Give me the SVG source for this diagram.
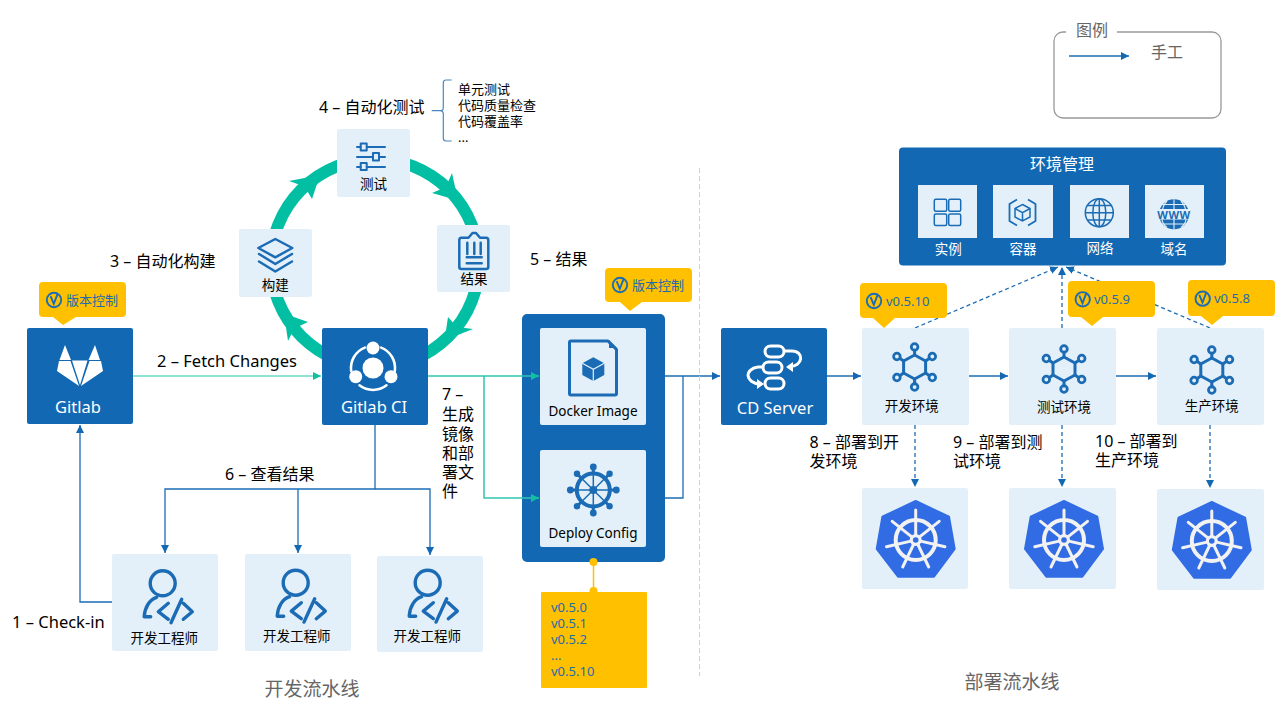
<svg xmlns="http://www.w3.org/2000/svg" width="1280" height="720" viewBox="0 0 1280 720">
<style>
text{font-family:"Noto Sans","Noto Sans CJK SC",sans-serif;fill:#000}
.c{text-anchor:middle}
.w{fill:#fff}
.s13{font-size:13.5px}.s15{font-size:16px}.s16{font-size:16px}.s165{font-size:16.5px}
.g{fill:#666}
.y{fill:#FFC000}
.lb{fill:#E3F0F9}
.db{fill:#1368B3}
.v{fill:#1E6BAE;font-size:13px}
.ic{fill:none;stroke:#1B6CB5;stroke-width:2.5;stroke-linecap:round;stroke-linejoin:round}
.ln{fill:none;stroke:#1B6CB5;stroke-width:1.3}
.lt{fill:none;stroke:#2EC7AE;stroke-width:1.5}
.da{fill:none;stroke:#1B6CB5;stroke-width:1.3;stroke-dasharray:4 3}
.wi{fill:none;stroke:#fff;stroke-width:2.6;stroke-linecap:round;stroke-linejoin:round}
</style>
<defs>
<marker id="ab" markerUnits="userSpaceOnUse" markerWidth="10" markerHeight="10" refX="8" refY="4" orient="auto"><path d="M0 0L8 4L0 8z" fill="#1368B3"/></marker>
<marker id="at" markerUnits="userSpaceOnUse" markerWidth="10" markerHeight="10" refX="8" refY="4" orient="auto"><path d="M0 0L8 4L0 8z" fill="#12BFA3"/></marker>
<g id="vi"><circle r="7.200" fill="none" stroke="#1B6CB5" stroke-width="1.900"/><path d="M-3.400 -3.800L-.2 3.800L3.600 -6.200" fill="none" stroke="#1B6CB5" stroke-width="1.900"/></g>
<g id="hex"><path class="ic" style="stroke-width:3" d="M0 -12L11 -6V6L0 12L-11 6V-6Z"/><path class="ic" style="stroke-width:3" d="M0 -12V-17M11 -6L14.500 -8.500M11 6L14.500 8.500M0 12V17M-11 6L-14.500 8.500M-11 -6L-14.500 -8.500"/><g class="ic" style="stroke-width:2.800"><circle cy="-20" r="3.300"/><circle cy="20" r="3.300"/><circle cx="17.700" cy="-10.500" r="3.300"/><circle cx="17.700" cy="10.500" r="3.300"/><circle cx="-17.700" cy="-10.500" r="3.300"/><circle cx="-17.700" cy="10.500" r="3.300"/></g></g>
<g id="k8s"><path d="M0 -39L33.300 -23.300L39 9L18.300 36.700H-17.700L-39 9L-33.300 -23.300Z" fill="#326CE5" stroke="#326CE5" stroke-width="2" stroke-linejoin="round"/><circle r="20" fill="none" stroke="#F2F2F2" stroke-width="4"/><g stroke="#F2F2F2" stroke-width="3" stroke-linecap="round"><path d="M0 -30V-5M23.500 -18.700L3.900 -3.100M29.200 6.700L4.900 1.100M13 27L2.200 4.500M-13 27L-2.200 4.500M-29.200 6.700L-4.900 1.100M-23.500 -18.700L-3.900 -3.100"/></g><circle r="6" fill="#F2F2F2"/><circle r="2.800" fill="#326CE5"/></g>
<g id="dev"><g class="ic" style="stroke-width:3.400"><circle r="12.500"/><path d="M-6 14C-13 16 -18 24 -18.500 33.500H-12"/><path d="M5.600 20L-4.400 28.400L5.600 36M19 16L8.300 39.400M20.600 20L29.600 28.400L20.600 36"/></g></g>
</defs>
<rect width="1280" height="720" fill="#fff"/>
<g id="package">
<path class="y" d="M609 268H688Q692 268 692 272V298Q692 302 688 302H642L630 311L620 302H609Q605 302 605 298V272Q605 268 609 268Z"/>
<use href="#vi" x="620" y="285"/><text x="632" y="290" class="v">版本控制</text>
<rect x="522" y="314" width="143" height="248" rx="5" class="db"/>
</g>
<g id="connectors">
<circle cx="375" cy="263" r="104" fill="none" stroke="#02BFA3" stroke-width="12"/>
<path fill="#02BFA3" d="M320 175L312 199L304.600 186.500L289 181Z"/>
<path fill="#02BFA3" d="M458 200.400L432 193L445.900 186.900L452 173Z"/>
<path fill="#02BFA3" d="M444.600 340.300L448 317L457 327L473 329Z"/>
<path fill="#02BFA3" d="M284 313.400L308 322L294.200 328.400L288 341Z"/>
<path class="lt" style="stroke:#6FD9C8" d="M133 376H321" marker-end="url(#at)"/>
<path class="lt" d="M428 376H539" marker-end="url(#at)"/>
<path class="lt" d="M484 376V498H539" marker-end="url(#at)"/>
<path class="ln" d="M112 602H80V425" marker-end="url(#ab)"/>
<path class="ln" d="M375 425V489H165V553" marker-end="url(#ab)"/>
<path class="ln" d="M298 489V553" marker-end="url(#ab)"/>
<path class="ln" d="M375 489H430V555" marker-end="url(#ab)"/>
<path class="ln" d="M665 376H720" marker-end="url(#ab)"/>
<path class="ln" d="M665 498H683V376"/>
<path class="ln" d="M827 376H861" marker-end="url(#ab)"/>
<path class="ln" d="M969 376H1008" marker-end="url(#ab)"/>
<path class="ln" d="M1116 376H1156" marker-end="url(#ab)"/>
<path class="da" d="M915 425V487" marker-end="url(#ab)"/>
<path class="da" d="M1062 425V487" marker-end="url(#ab)"/>
<path class="da" d="M1210 425V488" marker-end="url(#ab)"/>
<path class="da" d="M915 328L1058 267" marker-end="url(#ab)"/>
<path class="da" d="M1062 328V267" marker-end="url(#ab)"/>
<path class="da" d="M1210 328L1066 267" marker-end="url(#ab)"/>
<path fill="none" stroke="#FFC000" stroke-width="1.500" d="M593.500 562V592"/>
<circle cx="593.500" cy="562" r="4" class="y"/><circle cx="593.500" cy="591" r="4" class="y"/>
<path d="M699.500 168V676" fill="none" stroke="#D0D0D0" stroke-width="1" stroke-dasharray="5 3"/>
<path d="M451.700 80H446Q443.300 80 443.300 83V107.700Q443.300 110.700 440 110.700H431.700M440 110.700Q443.300 110.700 443.300 114V138Q443.300 141 446 141H451.700" fill="none" stroke="#4A86BD" stroke-width="1.200"/>
</g>

<g id="gitlab">
<path class="y" d="M43 282H122Q126 282 126 286V313Q126 317 122 317H76L63 325L53 317H43Q39 317 39 313V286Q39 282 43 282Z"/>
<use href="#vi" x="54" y="300"/><text x="66" y="305" class="v">版本控制</text>
<rect x="27" y="328" width="106" height="96" rx="2" class="db"/>
<path fill="#fff" d="M65 345L59.500 360H71ZM95 345L88.500 360H100ZM72 360.500H87.500L80 385ZM57 371L59 361H70.500L79 386ZM103 371L101 361H89.500L81 386Z"/>
<text x="78" y="413" class="c w s165">Gitlab</text>
</g>
<g id="gitlab-ci">
<rect x="322" y="328" width="106" height="97" rx="2" class="db"/>
<circle cx="373" cy="368" r="10.500" fill="#fff"/><circle cx="373" cy="348" r="6.500" fill="#fff"/><circle cx="355.700" cy="376.700" r="6.500" fill="#fff"/><circle cx="391" cy="376.700" r="6.500" fill="#fff"/>
<path class="wi" d="M381.200 347.600A22 22 0 0 1 394.800 371.100M386.500 385.300A22 22 0 0 1 359.500 385.300M351.200 371.100A22 22 0 0 1 364.800 347.600"/>
<text x="374" y="413" class="c w s165">Gitlab CI</text>
</g>
<g id="test">
<rect x="337" y="129" width="73" height="68" rx="2" class="lb"/>
<path class="ic" style="stroke-width:2" d="M357 147H360.700M367 147H385M357 157H373M379 157H385M357 167H360.700M367 167H385"/>
<path class="ic" style="stroke-width:2" d="M360.700 143.500h6v7h-6zM373 153h6v7.500h-6zM360.700 163h6v7h-6z"/>
<text x="373.500" y="189" class="c s13">测试</text>
</g>
<g id="build">
<rect x="239" y="229" width="73" height="68" rx="2" class="lb"/>
<path class="ic" d="M275.300 239L292.300 248L275.300 257.300L258.300 248ZM259 254L275.300 264L292 254M259 261.500L275.300 271.500L292 261.500"/>
<text x="275.300" y="290" class="c s13">构建</text>
</g>
<g id="result">
<rect x="437" y="225" width="73" height="67" rx="2" class="lb"/>
<path class="ic" d="M468.500 237.700H461.500Q459.300 237.700 459.300 240V267Q459.300 269 461.500 269H486Q488.300 269 488.300 267V240Q488.300 237.700 486 237.700H480L476 233H472.500ZM467.300 242.700V254M474.300 242.700V254M480.700 242.700V254M466.700 257.300H481.700M466.700 263.300H481.700"/>
<text x="474" y="284" class="c s13">结果</text>
</g>
<g id="docker-image">
<rect x="540" y="328" width="106" height="97" rx="2" class="lb"/>
<path class="ic" style="stroke-width:3" d="M571 341H608L616.500 349.500V393.500Q616.500 395 615 395H571Q569.500 395 569.500 393.500V342.500Q569.500 341 571 341Z"/>
<path d="M609 340L617 348H609Z" fill="#1B6CB5"/>
<path fill="#1B6CB5" d="M593.300 357.300L604.300 363.300V375L593.300 381L582.300 375V363.300Z"/>
<path d="M582.300 363.300L593.300 369.300L604.300 363.300M593.300 369.300V381" fill="none" stroke="#E3F0F9" stroke-width="1.200"/>
<text x="593" y="415.500" class="c s13">Docker Image</text>
</g>
<g id="deploy-config">
<rect x="540" y="450" width="106" height="97" rx="2" class="lb"/>
<circle cx="593.300" cy="490" r="16.500" fill="none" stroke="#1B6CB5" stroke-width="4"/>
<path stroke="#1B6CB5" stroke-width="1.500" d="M593.300 474V506M577.300 490H609.300M582 478.700L604.600 501.300M604.600 478.700L582 501.300"/>
<path stroke="#1B6CB5" stroke-width="3" d="M593.300 467V474M593.300 506V513M570.300 490H577.300M609.300 490H616.300M577 473.700L581.500 478.200M605.100 501.800L609.600 506.300M609.600 473.700L605.100 478.200M581.500 501.800L577 506.300"/>
<g fill="#1B6CB5"><circle cx="593.300" cy="490" r="4"/><circle cx="593.300" cy="467" r="3.400"/><circle cx="593.300" cy="513" r="3.400"/><circle cx="570.300" cy="490" r="3.400"/><circle cx="616.300" cy="490" r="3.400"/><circle cx="577" cy="473.700" r="3.200"/><circle cx="609.600" cy="473.700" r="3.200"/><circle cx="577" cy="506.300" r="3.200"/><circle cx="609.600" cy="506.300" r="3.200"/></g>
<text x="593" y="538" class="c s13">Deploy Config</text>
</g>
<g id="versions">
<rect x="541" y="592" width="106" height="96" rx="1" class="y"/>
<text class="v"><tspan x="551" y="612">v0.5.0</tspan><tspan x="551" y="628">v0.5.1</tspan><tspan x="551" y="644">v0.5.2</tspan><tspan x="551" y="660">...</tspan><tspan x="551" y="676">v0.5.10</tspan></text>
</g>
<g id="dev-1"><rect x="112" y="554" width="106" height="97" rx="2" class="lb"/><use href="#dev" x="162.700" y="583.300"/><text x="164.300" y="642.700" class="c s13">开发工程师</text></g>
<g id="dev-2"><rect x="245" y="554" width="106" height="97" rx="2" class="lb"/><use href="#dev" x="295.700" y="582.700"/><text x="296.700" y="641" class="c s13">开发工程师</text></g>
<g id="dev-3"><rect x="377" y="556" width="106" height="96" rx="2" class="lb"/><use href="#dev" x="427.700" y="582.700"/><text x="427.300" y="641" class="c s13">开发工程师</text></g>
<g id="cd-server">
<rect x="721" y="328" width="106" height="97" rx="2" class="db"/>
<g class="wi" style="stroke-width:3"><rect x="765" y="346" width="19" height="11" rx="5.500"/><rect x="763" y="362" width="19" height="11" rx="5.500"/><rect x="765" y="378" width="19" height="11" rx="5.500"/>
<path d="M785 351H792C804 351 804 366 789 367"/><path d="M762 367H758C744 369 745 383 760 384"/></g>
<path fill="#fff" d="M786 367L793 362V372ZM764 384L757 379V389Z"/>
<text x="775" y="414" class="c w s165">CD Server</text>
</g>
<g id="env-dev">
<rect x="862" y="328" width="107" height="97" rx="2" class="lb"/>
<use href="#hex" x="914.600" y="367"/><text x="911.800" y="410.700" class="c s13">开发环境</text>
<path class="y" d="M864 283H943Q947 283 947 287V314Q947 318 943 318H895L884 328L873 318H864Q860 318 860 314V287Q860 283 864 283Z"/>
<use href="#vi" x="874" y="301"/><text x="886" y="305.700" class="v">v0.5.10</text>
</g>
<g id="env-test">
<rect x="1009" y="328" width="107" height="97" rx="2" class="lb"/>
<use href="#hex" x="1064" y="369"/><text x="1064" y="412" class="c s13">测试环境</text>
<path class="y" d="M1072 281H1151Q1155 281 1155 285V313Q1155 317 1151 317H1103L1092 326L1081 317H1072Q1068 317 1068 313V285Q1068 281 1072 281Z"/>
<use href="#vi" x="1082.700" y="299.300"/><text x="1094" y="304" class="v">v0.5.9</text>
</g>
<g id="env-prod">
<rect x="1157" y="328" width="107" height="97" rx="2" class="lb"/>
<use href="#hex" x="1211.800" y="370"/><text x="1211.800" y="410.500" class="c s13">生产环境</text>
<path class="y" d="M1192 280H1271Q1275 280 1275 284V312Q1275 316 1271 316H1223L1212 325L1201 316H1192Q1188 316 1188 312V284Q1188 280 1192 280Z"/>
<use href="#vi" x="1202.700" y="298.700"/><text x="1214" y="303" class="v">v0.5.8</text>
</g>
<g id="k8s-dev"><rect x="862" y="488" width="106" height="101" rx="2" class="lb"/><use href="#k8s" x="915.700" y="540"/></g>
<g id="k8s-test"><rect x="1009" y="488" width="107" height="101" rx="2" class="lb"/><use href="#k8s" x="1064" y="540"/></g>
<g id="k8s-prod"><rect x="1157" y="489" width="107" height="101" rx="2" class="lb"/><use href="#k8s" x="1211.800" y="541"/></g>
<g id="env-management">
<rect x="899" y="147.500" width="327" height="118" rx="4" class="db"/>
<text x="1062" y="170" class="c w s16">环境管理</text>
<rect x="918" y="185" width="59" height="53" class="lb"/><rect x="993" y="185" width="60" height="53" class="lb"/><rect x="1070" y="185" width="59" height="53" class="lb"/><rect x="1145" y="185" width="59" height="53" class="lb"/>
<g fill="none" stroke="#1B6CB5" stroke-width="1.500"><rect x="934.300" y="199.300" width="12.400" height="12" rx="1.500"/><rect x="948.700" y="199.300" width="12" height="12" rx="1.500"/><rect x="934.300" y="214" width="12.400" height="11.500" rx="1.500"/><rect x="948.700" y="214" width="12" height="11.500" rx="1.500"/>
<path stroke-width="1.800" d="M1017 199.500L1009.500 204V221L1017 225.500M1028 199.500L1035.500 204V221L1028 225.500"/><path d="M1022.500 204.500L1030 208.500V217L1022.500 221L1015 217V208.500ZM1015 208.500L1022.500 212.700L1030 208.500M1022.500 212.700V221" stroke-width="1.500"/>
<circle cx="1099.300" cy="212.700" r="14"/><ellipse cx="1099.300" cy="212.700" rx="6.500" ry="14"/><path d="M1099.300 198.700V226.700M1085.300 212.700H1113.300M1087.300 205.500H1111.300M1087.300 220H1111.300"/></g>
<circle cx="1174" cy="214.300" r="15" fill="#1B6CB5"/>
<path d="M1174 199.300V229.300M1167 201C1163 205 1162 209 1162 214M1181 201C1185 205 1186 209 1186 214M1162 204.500H1186M1162 224H1186M1167 227.500C1164 225 1162 222 1162 219M1181 227.500C1184 225 1186 222 1186 219" fill="none" stroke="#E3F0F9" stroke-width="1.100"/>
<rect x="1158" y="209" width="32" height="10.500" fill="#E3F0F9"/>
<text x="1174" y="218.500" class="c" style="fill:#1B6CB5;font-size:11px;font-weight:700;letter-spacing:.5px">WWW</text>
<text x="948.300" y="254.300" class="c w s13">实例</text><text x="1023" y="254.300" class="c w s13">容器</text><text x="1100" y="252.500" class="c w s13">网络</text><text x="1174" y="254.300" class="c w s13">域名</text>
</g>
<g id="legend">
<rect x="1054" y="32" width="167" height="86" rx="9" fill="none" stroke="#999" stroke-width="1.300"/>
<rect x="1066" y="28" width="51" height="8" fill="#fff"/>
<text x="1076" y="36" class="g s16">图例</text>
<path class="ln" d="M1069 56H1129" marker-end="url(#ab)"/>
<text x="1151" y="58" class="g s16">手工</text>
</g>
<g id="labels">
<text x="157" y="367" class="s165">2 – Fetch Changes</text>
<text x="110" y="267" class="s16">3 – 自动化构建</text>
<text x="319" y="113" class="s16">4 – 自动化测试</text>
<text x="530" y="265" class="s16">5 – 结果</text>
<text x="458" y="94" style="font-size:13px">单元测试</text><text x="458" y="110" style="font-size:13px">代码质量检查</text><text x="458" y="126" style="font-size:13px">代码覆盖率</text><text x="458" y="142" style="font-size:13px">...</text>
<text x="225" y="480" class="s16">6 – 查看结果</text>
<text class="s16"><tspan x="442" y="400">7 –</tspan><tspan x="442" y="420">生成</tspan><tspan x="442" y="440">镜像</tspan><tspan x="442" y="459">和部</tspan><tspan x="442" y="478">署文</tspan><tspan x="442" y="497">件</tspan></text>
<text x="12" y="628" class="s165">1 – Check-in</text>
<text class="s16"><tspan x="809.500" y="448">8 – 部署到开</tspan><tspan x="809.500" y="467">发环境</tspan></text>
<text class="s16"><tspan x="953" y="448">9 – 部署到测</tspan><tspan x="953" y="467">试环境</tspan></text>
<text class="s16"><tspan x="1095" y="447">10 – 部署到</tspan><tspan x="1095" y="466">生产环境</tspan></text>
<text x="312" y="696" class="c g" font-size="19">开发流水线</text>
<text x="1012" y="689" class="c g" font-size="19">部署流水线</text>
</g>
</svg>
